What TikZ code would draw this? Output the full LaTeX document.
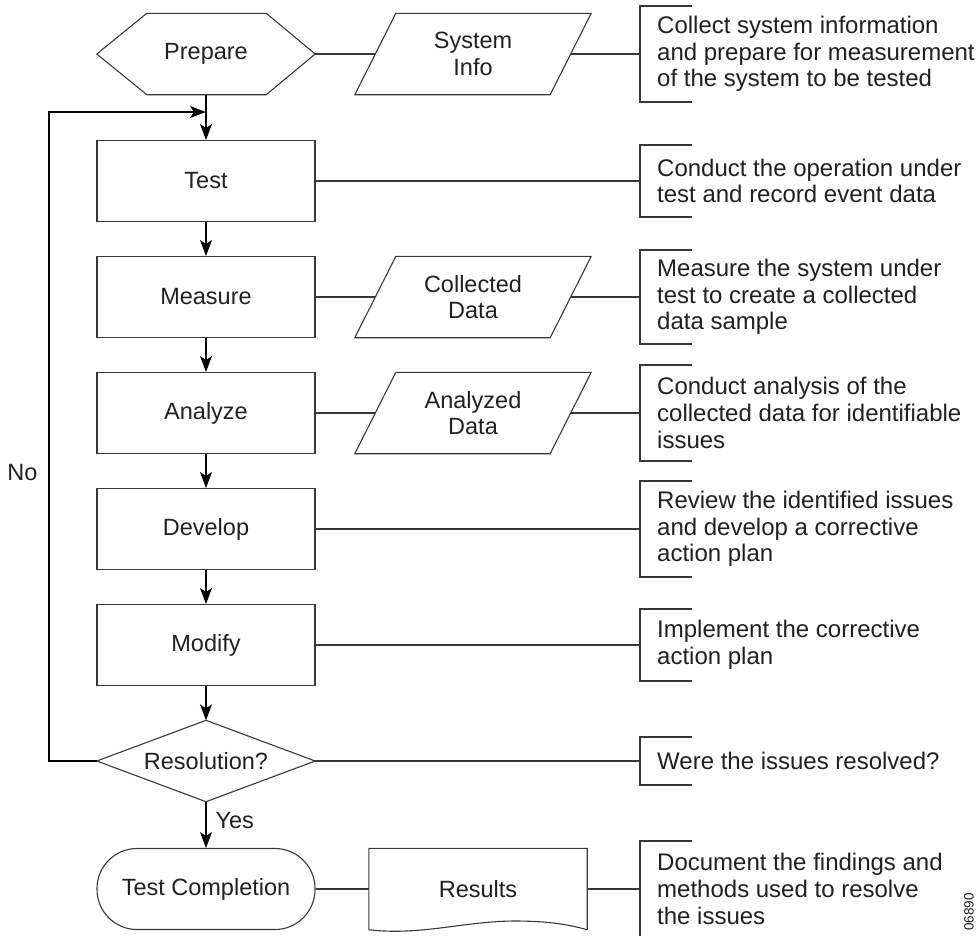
\documentclass[tikz,border=0pt]{standalone}
\usepackage{fontspec}
\setmainfont{Liberation Sans}
\usetikzlibrary{arrows.meta}
\definecolor{ink}{HTML}{231F20}
\definecolor{edge}{HTML}{383838}
\newcommand{\mybracket}[3]{%
  \coordinate (#1) at (640,#2);
  \draw[outline] (692,#2-#3) -- (640,#2-#3) -- (640,#2+#3) -- (692,#2+#3);}
\begin{document}
\begin{tikzpicture}[x=1pt,y=-1pt,
  every node/.style={text=ink, font=\fontsize{23.5}{26.5}\selectfont},
  ghost/.style={minimum width=218pt, minimum height=81pt, inner sep=0pt, align=center},
  proc/.style={ghost, draw=edge, line width=1.1pt},
  io/.style={minimum width=236pt, minimum height=81pt, inner sep=0pt, align=center},
  outline/.style={draw=edge, line width=1.1pt},
  link/.style={draw=edge, line width=1.1pt},
  flow/.style={draw=black, line width=1.2pt, -{Stealth[length=16pt,width=12pt,inset=4pt]}},
  note/.style={anchor=west, align=left, inner sep=0pt, font=\fontsize{24}{26.7}\selectfont},
]
\useasboundingbox (0,0) rectangle (979,935);

% --- Prepare (hexagon)
\node[ghost] (prep) at (206,54) {Prepare};
\draw[outline] (prep.west) -- ([xshift=50pt]prep.north west) -- ([xshift=-49pt]prep.north east)
  -- (prep.east) -- ([xshift=-49pt]prep.south east) -- ([xshift=50pt]prep.south west) -- cycle;

% --- System Info (parallelogram)
\node[io] (si) at (473,54) {System\\Info};
\draw[outline] ([xshift=41pt]si.north west) -- (si.north east) -- ([xshift=-41pt]si.south east) -- (si.south west) -- cycle;
\coordinate (si-l) at ([xshift=20.5pt]si.west);
\coordinate (si-r) at ([xshift=-20.5pt]si.east);

% --- process boxes
\node[proc] (test) at (206,181) {Test};
\node[proc] (meas) at (206,297) {Measure};
\node[proc] (anal) at (206,413) {Analyze};
\node[proc] (dev) at (206,529) {Develop};
\node[proc] (mod) at (206,645) {Modify};

% --- Collected / Analyzed data
\node[io] (cd) at (473,297) {Collected\\Data};
\draw[outline] ([xshift=41pt]cd.north west) -- (cd.north east) -- ([xshift=-41pt]cd.south east) -- (cd.south west) -- cycle;
\coordinate (cd-l) at ([xshift=20.5pt]cd.west);
\coordinate (cd-r) at ([xshift=-20.5pt]cd.east);
\node[io] (ad) at (473,413) {Analyzed\\Data};
\draw[outline] ([xshift=41pt]ad.north west) -- (ad.north east) -- ([xshift=-41pt]ad.south east) -- (ad.south west) -- cycle;
\coordinate (ad-l) at ([xshift=20.5pt]ad.west);
\coordinate (ad-r) at ([xshift=-20.5pt]ad.east);

% --- Resolution (diamond)
\node[ghost] (res) at (206,761) {Resolution?};
\draw[outline] (res.west) -- (res.north) -- (res.east) -- (res.south) -- cycle;

% --- Test Completion (terminal)
\node[ghost, draw=edge, line width=1.1pt, rounded corners=40pt] (tc) at (206,889) {Test Completion};

% --- Results (document)
\node[ghost] (rs) at (478,889) {Results};
\draw[outline] (rs.south east) -- (rs.north east) -- (rs.north west) -- (rs.south west)
  .. controls (420,936) and (465,921) .. (515,921)
  .. controls (550,921) and (570,925) .. (rs.south east);

% --- annotation brackets
\mybracket{b1}{54}{48}
\mybracket{b2}{181}{36}
\mybracket{b3}{297}{47}
\mybracket{b4}{413}{48}
\mybracket{b5}{529}{48}
\mybracket{b6}{645}{36}
\mybracket{b7}{761}{24}
\mybracket{b8}{889}{48}

\node[note] (n1) at (657,54) {Collect system information\\and prepare for measurement\\of the system to be tested};
\node[note] (n2) at (657,181) {Conduct the operation under\\test and record event data};
\node[note] (n3) at (657,297) {Measure the system under\\test to create a collected\\data sample};
\node[note] (n4) at (657,413) {Conduct analysis of the\\collected data for identifiable\\issues};
\node[note] (n5) at (657,529) {Review the identified issues\\and develop a corrective\\action plan};
\node[note] (n6) at (657,645) {Implement the corrective\\action plan};
\node[note] (n7) at (657,761) {Were the issues resolved?};
\node[note] (n8) at (657,889) {Document the findings and\\methods used to resolve\\the issues};

% --- plain connectors
\draw[link] (prep.east) -- (si-l);
\draw[link] (si-r) -- (b1);
\draw[link] (test.east) -- (b2);
\draw[link] (meas.east) -- (cd-l);
\draw[link] (cd-r) -- (b3);
\draw[link] (anal.east) -- (ad-l);
\draw[link] (ad-r) -- (b4);
\draw[link] (dev.east) -- (b5);
\draw[link] (mod.east) -- (b6);
\draw[link] (res.east) -- (b7);
\draw[link] (tc.east) -- (rs.west);
\draw[link] (rs.east) -- (b8);

% --- flow arrows
\coordinate (join) at (206,112);
\coordinate (loop) at (49,761);
\draw[flow] (prep.south) -- (test.north);
\draw[flow] (test.south) -- (meas.north);
\draw[flow] (meas.south) -- (anal.north);
\draw[flow] (anal.south) -- (dev.north);
\draw[flow] (dev.south) -- (mod.north);
\draw[flow] (mod.south) -- (res.north);
\draw[flow] (res.south) -- (tc.north);
\draw[flow] (res.west) -- (loop) |- (join);

\node[anchor=west] (yes) at (212,821) {Yes};
\node[anchor=east] (no) at (41,473) {No};

\node[rotate=90, anchor=south west, inner sep=1pt, font=\fontsize{13.5}{14}\selectfont] (fig) at (975,932) {06890};
\end{tikzpicture}
\end{document}
